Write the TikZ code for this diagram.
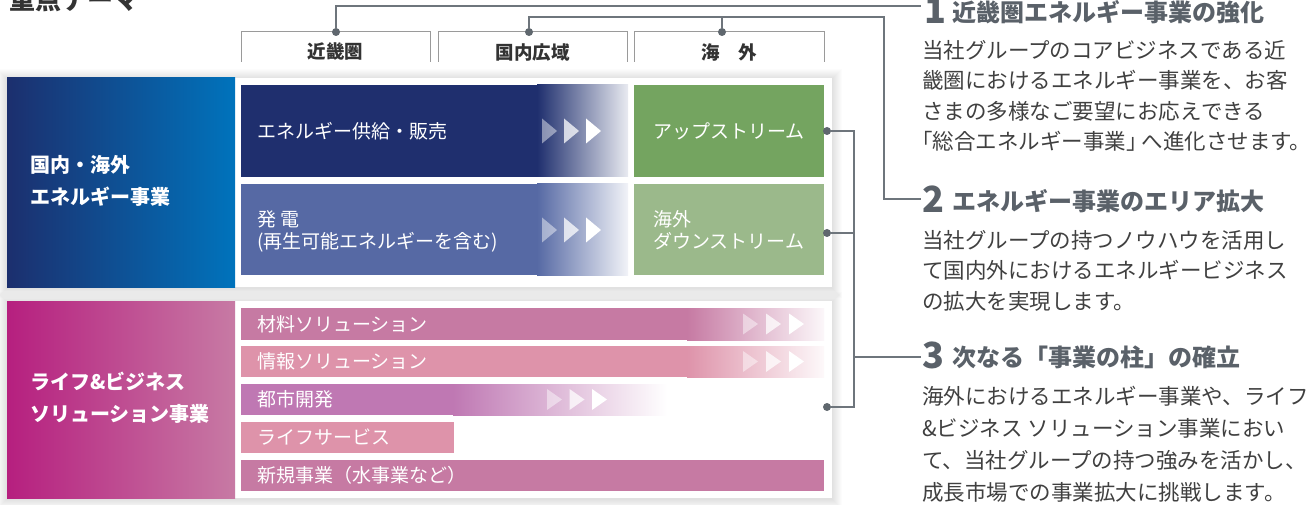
\documentclass[tikz,border=0pt]{standalone}
\usepackage{fontspec}
\setmainfont{Noto Sans CJK JP}
\usetikzlibrary{calc}
\definecolor{navyA}{HTML}{1F2F6E}
\definecolor{blueB}{HTML}{5669A4}
\definecolor{blkL}{HTML}{1C2F6E}
\definecolor{blkR}{HTML}{0073BC}
\definecolor{grnA}{HTML}{74A460}
\definecolor{grnB}{HTML}{9BB98B}
\definecolor{magL}{HTML}{B61F7F}
\definecolor{magR}{HTML}{C77AA4}
\definecolor{pinkA}{HTML}{C67AA3}
\definecolor{pinkB}{HTML}{DE93AA}
\definecolor{purpC}{HTML}{BF78B3}
\definecolor{linec}{HTML}{6E757C}
\definecolor{dotc}{HTML}{5F676E}
\definecolor{headc}{HTML}{5A6169}
\definecolor{bodyc}{HTML}{404040}
\definecolor{tabc}{HTML}{9A9A9A}
\definecolor{titlec}{HTML}{333333}
\newcommand\fsz[2]{\fontsize{#1}{#2}\selectfont}
% soft shadow: x1,y1,x2,y2 (y downward)
\newcommand\softshadow[4]{%
  \foreach \k in {1,...,10}{\fill[black,opacity=0.013] (#1-\k,#2-\k+1) rectangle (#3+\k,#4+\k+1);}}
% three arrow triangles: x of first, y centre, half height, step
\newcommand\arrowtrio[4]{%
  \fill[white,opacity=0.45] (#1,#2-#3) -- (#1+15,#2) -- (#1,#2+#3) -- cycle;
  \fill[white,opacity=0.75] (#1+#4,#2-#3) -- (#1+#4+15,#2) -- (#1+#4,#2+#3) -- cycle;
  \fill[white] (#1+2*#4,#2-#3) -- (#1+2*#4+15,#2) -- (#1+2*#4,#2+#3) -- cycle;}
\begin{document}
\begin{tikzpicture}[x=1pt,y=-1pt,
  blk/.style={anchor=north west, inner sep=0, outer sep=0, draw=none},
  rowtxt/.style={anchor=west, text=white, font=\fsz{19}{22}, align=left, inner sep=0},
  conn/.style={draw=linec, line width=1.5},
  dot/.style={circle, fill=dotc, inner sep=0, minimum size=8},
  tabline/.style={draw=tabc, line width=1},
  tabtxt/.style={font=\fsz{18.5}{20}\bfseries, text=titlec, inner sep=0},
  headnum/.style={anchor=base west, font=\fsz{36}{36}\bfseries, text=headc, inner sep=0},
  headtxt/.style={anchor=base west, font=\fsz{24}{24}\bfseries, text=headc, inner sep=0},
  bodytxt/.style={anchor=north west, font=\fsz{21.5}{30.5}, text=bodyc, align=left, inner sep=0},
  lefttxt/.style={anchor=west, font=\fsz{20}{32}\bfseries, text=white, align=left, inner sep=0}]
\useasboundingbox (0,0) rectangle (1312,505);
\fill[white] (0,0) rectangle (1312,505);

% title
\node[anchor=base west, font=\fsz{26}{26}\bfseries, text=titlec, inner sep=0] (title) at (9,10) {重点テーマ};

% header tabs
\node[blk, minimum width=189, minimum height=30] (tab1) at (241,32) {};
\node[blk, minimum width=189, minimum height=30] (tab2) at (438,32) {};
\node[blk, minimum width=190, minimum height=30] (tab3) at (634,32) {};
\foreach \t in {tab1,tab2,tab3}{\draw[tabline] (\t.south west) |- (\t.north east) -- (\t.south east);}
\node[tabtxt] (tt1) at (335.5,52) {近畿圏};
\node[tabtxt] (tt2) at (532.5,52) {国内広域};
\node[tabtxt] (tt3) at (729,52) {海　外};

% panels
\softshadow{7}{78}{832}{287}
\node[blk, fill=white, minimum width=825, minimum height=209] (P1) at (7,78) {};
\softshadow{7}{301}{832}{498}
\node[blk, fill=white, minimum width=825, minimum height=197] (P2) at (7,301) {};

% energy block
\node[blk, left color=blkL, right color=blkR, minimum width=228, minimum height=209] (L1) at (7,78) {};
\node[lefttxt] (L1t) at (30,181) {国内・海外\\エネルギー事業};

\node[blk, fill=navyA, minimum width=387, minimum height=92] (r1) at (241,85) {};
\shade[left color=navyA, right color=white!90!navyA] (537,85) rectangle (628,177);
\arrowtrio{542}{131}{12.5}{22}
\node[rowtxt] (r1t) at (257,131) {エネルギー供給・販売};

\node[blk, fill=blueB, minimum width=387, minimum height=91] (r2) at (241,184) {};
\shade[left color=blueB, right color=white!92!blueB] (537,184) rectangle (628,275);
\arrowtrio{542}{230}{12.5}{22}
\node[rowtxt] (r2t) at (257,231) {発 電\\(再生可能エネルギーを含む)};

\node[blk, fill=grnA, minimum width=190, minimum height=92] (g1) at (634,85) {};
\node[rowtxt] (g1t) at (653,131) {アップストリーム};
\node[blk, fill=grnB, minimum width=190, minimum height=91] (g2) at (634,184) {};
\node[rowtxt] (g2t) at (653,230) {海外\\ダウンストリーム};

% life block
\node[blk, left color=magL, right color=magR, minimum width=228, minimum height=197] (L2) at (7,301) {};
\node[lefttxt] (L2t) at (30,398) {ライフ\&ビジネス\\ソリューション事業};

\node[blk, fill=pinkA, minimum width=583, minimum height=32] (s1) at (241,308) {};
\shade[left color=pinkA, right color=white!94!pinkA] (687,308) rectangle (824,340);
\arrowtrio{743}{324}{10.5}{23}
\node[rowtxt] (s1t) at (257,324) {材料ソリューション};

\node[blk, fill=pinkB, minimum width=583, minimum height=31] (s2) at (241,346) {};
\shade[left color=pinkB, right color=white!94!pinkB] (687,346) rectangle (824,377);
\arrowtrio{743}{361.5}{10.5}{23}
\node[rowtxt] (s2t) at (257,361.5) {情報ソリューション};

\node[blk, fill=purpC, minimum width=426, minimum height=31] (s3) at (241,384) {};
\shade[left color=purpC, right color=white] (453,384) rectangle (667,415);
\arrowtrio{547}{399.5}{10.5}{22.5}
\node[rowtxt] (s3t) at (257,399.5) {都市開発};

\node[blk, fill=pinkB, minimum width=213, minimum height=31] (s4) at (241,422) {};
\node[rowtxt] (s4t) at (257,437.5) {ライフサービス};

\node[blk, fill=pinkA, minimum width=583, minimum height=31] (s5) at (241,460) {};
\node[rowtxt] (s5t) at (257,475.5) {新規事業（水事業など）};

% connectors
\coordinate (e1) at (921,6);
\node[dot] (d1) at (336,32) {};
\draw[conn] (d1) |- (e1);

\node[dot] (d2) at (529,32) {};
\node[dot] (d3) at (722,32) {};
\coordinate (j2) at (884,17);
\coordinate (e2) at (921,199);
\draw[conn] (d2) |- (j2) |- (e2);
\draw[conn] (d3) -- (d3 |- j2);

\node[dot] (d4) at (827,131) {};
\node[dot] (d5) at (827,233) {};
\node[dot] (d6) at (827,407) {};
\coordinate (j4) at (854,131);
\coordinate (j6) at (854,407);
\coordinate (m3) at (854,357);
\coordinate (e3) at (921,357);
\draw[conn] (d4) -- (j4) -- (j6) -- (d6);
\draw[conn] (d5) -- (d5 -| j4);
\draw[conn] (m3) -- (e3);

% right-hand texts
\node[headnum] (n1) at (924,24) {1};
\node[headtxt] (h1) at (952,22) {近畿圏エネルギー事業の強化};
\node[bodytxt] (b1) at (922,40) {当社グループのコアビジネスである近\\畿圏におけるエネルギー事業を、お客\\さまの多様なご要望にお応えできる\\\hspace*{-0.5em}「総合エネルギー事業」\hspace{-0.3em}へ進化させます。};

\node[headnum] (n2) at (922,213) {2};
\node[headtxt] (h2) at (952,211) {エネルギー事業のエリア拡大};
\node[bodytxt] (b2) at (922,230) {当社グループの持つノウハウを活用し\\て国内外におけるエネルギービジネス\\の拡大を実現します。};

\node[headnum] (n3) at (922,368) {3};
\node[headtxt] (h3) at (952,366) {次なる「事業の柱」の確立};
\node[bodytxt, font=\fsz{21.5}{32}] (b3) at (922,386) {海外におけるエネルギー事業や、ライフ\\\&ビジネス ソリューション事業におい\\て、当社グループの持つ強みを活かし、\\成長市場での事業拡大に挑戦します。};
\end{tikzpicture}
\end{document}
